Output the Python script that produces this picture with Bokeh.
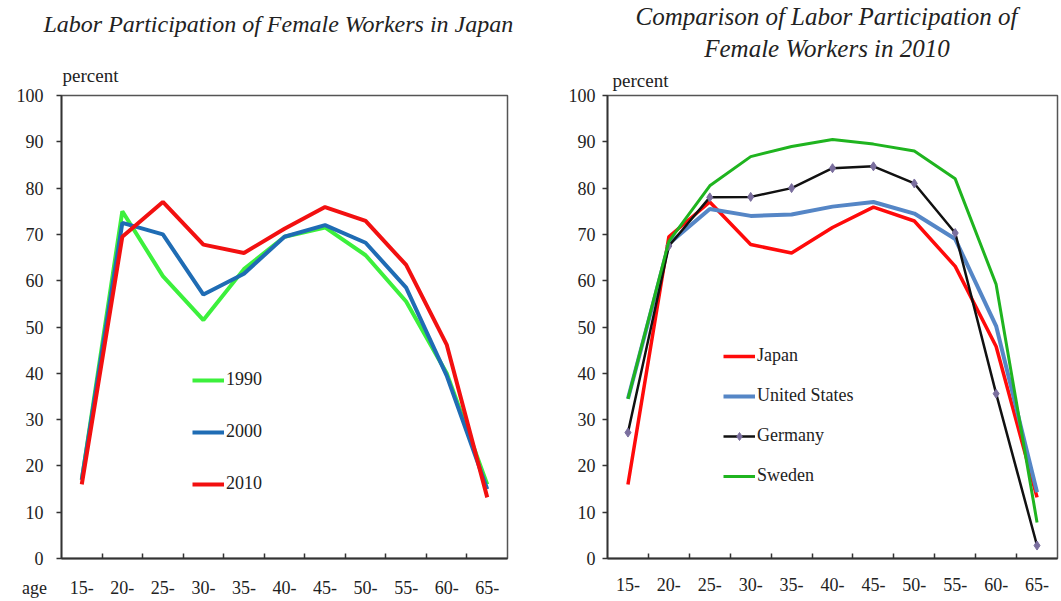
from bokeh.plotting import figure
from bokeh.models import (Range1d, FixedTicker, Legend, LegendItem, Title)
from bokeh.layouts import row
from bokeh.embed import file_html
from bokeh.resources import INLINE

# ---------------- data ----------------
ages = ["15-", "20-", "25-", "30-", "35-", "40-", "45-", "50-", "55-", "60-", "65-"]

japan_1990 = [17, 75, 61, 51.5, 62.5, 69.5, 71.5, 65.5, 55.5, 40, 16]
japan_2000 = [17, 72.5, 70, 57, 61.5, 69.5, 72, 68.2, 58.5, 39.5, 15]
japan_2010 = [16, 69.5, 77, 67.8, 66, 71.2, 75.9, 72.9, 63.4, 46.2, 13.2]

cmp_japan = [16, 69.5, 77, 67.8, 66, 71.5, 75.9, 72.9, 63.1, 45.8, 13.2]
cmp_us = [34.5, 68, 75.5, 74, 74.3, 76, 77, 74.5, 69, 50.2, 14.3]
cmp_germany = [27.2, 67.5, 78, 78.1, 80, 84.3, 84.7, 81, 70.3, 35.6, 2.8]
cmp_sweden = [34.5, 68.5, 80.5, 86.8, 89, 90.5, 89.5, 88, 82, 59.2, 7.8]

xs = list(range(1, len(ages) + 1))
yticks = list(range(0, 101, 10))

SERIF = "Liberation Serif"
TXT = "#222222"
NBSP = "\u00a0"


def title(text, offset, standoff, size="24px", italic=True):
    return Title(text=text, align="left", offset=offset, standoff=standoff,
                 text_font=SERIF, text_font_size=size, text_line_height=1.2,
                 text_font_style="italic" if italic else "normal",
                 text_color=TXT)


def make_fig(width, min_left, min_right, tick_standoff_y, age_caption=False):
    p = figure(width=width, height=600, output_backend="svg", toolbar_location=None,
               x_range=Range1d(0.5, 11.5), y_range=Range1d(0, 100),
               min_border_left=min_left, min_border_right=min_right,
               min_border_top=95, min_border_bottom=42)
    p.grid.visible = False
    p.background_fill_color = "white"
    p.border_fill_color = "white"
    p.outline_line_color = "#555555"
    p.outline_line_width = 1.5
    # x axis: labels at category centres, ticks at boundaries pointing inward
    ticks = ([0.5] if age_caption else []) + xs
    p.xaxis.ticker = FixedTicker(ticks=ticks, minor_ticks=[i + 0.5 for i in range(1, 11)])
    overrides = {x: a for x, a in zip(xs, ages)}
    if age_caption:
        # caption "age" sits left of the axis, in line with the age labels
        overrides[0.5] = "age" + NBSP * 12
    p.xaxis.major_label_overrides = overrides
    p.xaxis.major_tick_in = 0
    p.xaxis.major_tick_out = 0
    p.xaxis.minor_tick_in = 5
    p.xaxis.minor_tick_out = 0
    p.xaxis.major_label_standoff = 19
    # y axis
    p.yaxis.ticker = FixedTicker(ticks=yticks)
    p.yaxis.major_tick_in = 0
    p.yaxis.major_tick_out = 5
    p.yaxis.major_label_standoff = tick_standoff_y
    for ax in (p.xaxis, p.yaxis):
        ax.axis_line_color = "#333333"
        ax.axis_line_width = 1.8
        ax.major_tick_line_color = "#333333"
        ax.major_tick_line_width = 1.5
        ax.minor_tick_line_width = 1.5
        ax.major_label_text_font = SERIF
        ax.major_label_text_font_size = "18px"
        ax.major_label_text_color = TXT
    p.xaxis.minor_tick_line_color = "#333333"
    p.yaxis.minor_tick_line_color = None
    return p


def legend(items, location, spacing):
    return Legend(items=items, location=location, orientation="vertical",
                  border_line_color=None, background_fill_alpha=0,
                  spacing=spacing, label_height=20, glyph_width=32, glyph_height=20,
                  padding=0, margin=0, label_standoff=2,
                  label_text_font=SERIF, label_text_font_size="18px",
                  label_text_color=TXT)


# ---------------- left chart ----------------
p1 = make_fig(530, 61, 23, 13, age_caption=True)
r90 = p1.line(xs, japan_1990, line_color="#3CF03C", line_width=4)
r00 = p1.line(xs, japan_2000, line_color="#1F6CB4", line_width=4)
r10 = p1.line(xs, japan_2010, line_color="#F21010", line_width=4)

p1.add_layout(legend([LegendItem(label="1990", renderers=[r90]),
                      LegendItem(label="2000", renderers=[r00]),
                      LegendItem(label="2010", renderers=[r10])], (131, 64), 31))

p1.add_layout(title("percent", 1, 20, size="19px", italic=False), "above")
p1.add_layout(title(NBSP, 0, 3, size="10px", italic=False), "above")  # vertical gap
p1.add_layout(title("Labor Participation of Female Workers in Japan", -18, 0), "above")

# ---------------- right chart ----------------
p2 = make_fig(530, 77, 3, 7)
rj = p2.line(xs, cmp_japan, line_color="#FF0A0A", line_width=3.5)
ru = p2.line(xs, cmp_us, line_color="#5586C6", line_width=4)
rg = p2.line(xs, cmp_germany, line_color="#111111", line_width=2.5)
rgm = p2.scatter(xs, cmp_germany, marker="diamond", size=9, fill_color="#7A6E9E",
                 line_color="#7A6E9E")
rs = p2.line(xs, cmp_sweden, line_color="#1FB41F", line_width=3)

p2.add_layout(legend([LegendItem(label="Japan", renderers=[rj]),
                      LegendItem(label="United States", renderers=[ru]),
                      LegendItem(label="Germany", renderers=[rg, rgm]),
                      LegendItem(label="Sweden", renderers=[rs])], (116, 72), 19))

p2.add_layout(title("percent", 5, 10, size="19px", italic=False), "above")
p2.add_layout(title("Comparison of Labor Participation of\n" + NBSP * 11 +
                    "Female Workers in 2010", 28, 0, size="25px"), "above")

layout = row(p1, p2, spacing=0)
open("out.html", "w").write(file_html(layout, INLINE))
